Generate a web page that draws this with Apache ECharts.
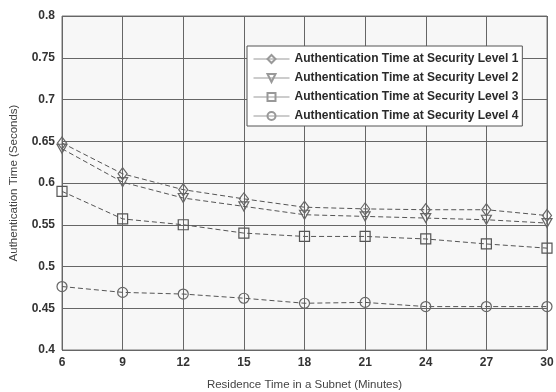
<!DOCTYPE html>
<html><head><meta charset="utf-8">
<script src="https://cdn.jsdelivr.net/npm/echarts@6/dist/echarts.min.js"></script>
<style>html,body{margin:0;padding:0;background:#fff}#c{width:556px;height:392px}</style>
</head><body><div id="c"></div>
<script>
var xValues = [6, 9, 12, 15, 18, 21, 24, 27, 30];
var level1 = [0.648, 0.611, 0.592, 0.581, 0.571, 0.569, 0.568, 0.568, 0.561];
var level2 = [0.641, 0.601, 0.582, 0.572, 0.562, 0.560, 0.558, 0.556, 0.552];
var level3 = [0.590, 0.557, 0.550, 0.540, 0.536, 0.536, 0.533, 0.527, 0.522];
var level4 = [0.476, 0.469, 0.467, 0.462, 0.456, 0.457, 0.452, 0.452, 0.452];
var seriesNames = ['Authentication Time at Security Level 1','Authentication Time at Security Level 2','Authentication Time at Security Level 3','Authentication Time at Security Level 4'];
var symbols = ['diamond','triangle','rect','circle'];
var data = [level1, level2, level3, level4];

function pairs(arr){ return xValues.map(function(x,i){return [x, arr[i]];}); }

var series = data.map(function(arr, k){
  return {
    name: seriesNames[k], type: 'line', data: pairs(arr),
    symbol: symbols[k], symbolSize: k===0 ? [9,12] : (k===1 ? [10,9] : 10),
    symbolRotate: k===1 ? 180 : 0,
    showAllSymbol: true,
    lineStyle: {color: '#555', width: 1, type: [5,3]},
    itemStyle: {color: 'transparent', borderColor: k===2 ? '#555' : '#666', borderWidth: 1.2},
    emphasis: {disabled: true}, animation: false
  };
});

var chart = echarts.init(document.getElementById('c'));
chart.setOption({
  animation: false,
  backgroundColor: '#fff',
  grid: {left: 62, right: 9, top: 16, bottom: 42, outerBoundsMode: 'none', containLabel: false,
    show: true, backgroundColor: '#f7f7f7', borderColor: '#777', borderWidth: 1},
  legend: {
    left: 247, top: 46, orient: 'vertical', itemGap: 7, itemWidth: 36, itemHeight: 10,
    backgroundColor: '#fff', borderColor: '#555', borderWidth: 1, padding: [7, 4, 4, 6],
    lineStyle: {type: 'solid', color: '#999', width: 1},
    itemStyle: {borderColor: '#999'},
    textStyle: {fontFamily: 'Liberation Sans, Arial', fontWeight: 'bold', fontSize: 12, color: '#2a2a2a'},
    data: seriesNames
  },
  xAxis: {
    type: 'value', min: 6, max: 30, interval: 3,
    name: 'Residence Time in a Subnet (Minutes)', nameLocation: 'middle', nameGap: 29,
    nameTextStyle: {fontFamily: 'Liberation Sans, Arial', fontSize: 11.5, color: '#444'},
    axisLine: {show: false}, axisTick: {show: false},
    axisLabel: {fontFamily: 'Liberation Sans, Arial', fontWeight: 'bold', fontSize: 12, color: '#333', margin: 7},
    splitLine: {show: true, lineStyle: {color: '#666', width: 1}}
  },
  yAxis: {
    type: 'value', min: 0.4, max: 0.8, interval: 0.05,
    name: 'Authentication Time (Seconds)', nameLocation: 'middle', nameGap: 42,
    nameTextStyle: {fontFamily: 'Liberation Sans, Arial', fontSize: 11.5, color: '#444'},
    axisLine: {show: false}, axisTick: {show: false},
    axisLabel: {fontFamily: 'Liberation Sans, Arial', fontWeight: 'bold', fontSize: 12, color: '#333', margin: 7,
      formatter: function(v){ return String(parseFloat(v.toFixed(2))); }},
    splitLine: {show: true, lineStyle: {color: '#666', width: 1}}
  },
  series: series
});
</script></body></html>
